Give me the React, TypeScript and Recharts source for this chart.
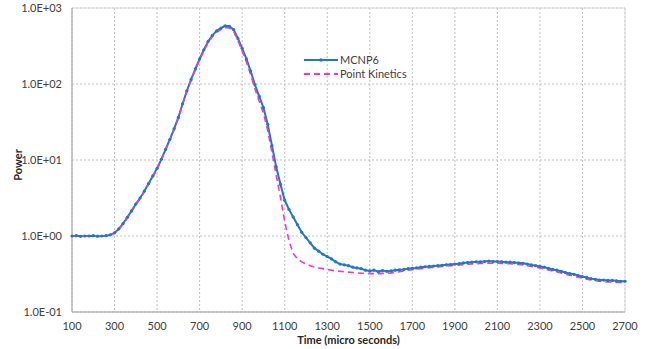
import {
  LineChart,
  Line,
  XAxis,
  YAxis,
  CartesianGrid,
  Legend,
  ReferenceArea,
} from 'recharts';

const BLUE = '#1f78c8';
const PINK = '#ff33cc';
const FONT = 'Lato, "Liberation Sans", sans-serif';

const time: number[] = [
  100, 120, 140, 160, 180, 200, 220, 240, 260, 280,
  300, 320, 340, 360, 380, 400, 420, 440, 460, 480,
  500, 520, 540, 560, 580, 600, 620, 640, 660, 680,
  700, 720, 740, 760, 780, 800, 820, 840, 860, 880,
  900, 920, 940, 960, 980, 1000, 1020, 1040, 1060, 1080,
  1100, 1120, 1140, 1160, 1180, 1200, 1220, 1240, 1260, 1280,
  1300, 1320, 1340, 1360, 1380, 1400, 1420, 1440, 1460, 1480,
  1500, 1520, 1540, 1560, 1580, 1600, 1620, 1640, 1660, 1680,
  1700, 1720, 1740, 1760, 1780, 1800, 1820, 1840, 1860, 1880,
  1900, 1920, 1940, 1960, 1980, 2000, 2020, 2040, 2060, 2080,
  2100, 2120, 2140, 2160, 2180, 2200, 2220, 2240, 2260, 2280,
  2300, 2320, 2340, 2360, 2380, 2400, 2420, 2440, 2460, 2480,
  2500, 2520, 2540, 2560, 2580, 2600, 2620, 2640, 2660, 2680,
  2700,
];

const mcnp6: number[] = [
  1.0, 1.01, 0.99, 1.0, 1.0, 1.01, 0.995, 1.0, 1.01, 1.035,
  1.1, 1.24, 1.46, 1.76, 2.14, 2.63, 3.16, 3.89, 4.9, 6.17,
  7.76, 10.2, 13.8, 18.6, 25.7, 36.3, 55.0, 81.3, 115, 158,
  214, 282, 363, 437, 501, 543, 582, 575, 519, 398,
  295, 214, 148, 97.7, 69.2, 49.0, 29.5, 15.5, 8.13, 4.79,
  2.95, 2.24, 1.78, 1.41, 1.12, 0.955, 0.813, 0.692, 0.631, 0.575,
  0.537, 0.501, 0.457, 0.427, 0.417, 0.407, 0.389, 0.38, 0.372, 0.355,
  0.347, 0.355, 0.339, 0.351, 0.343, 0.347, 0.355, 0.359, 0.363, 0.372,
  0.376, 0.38, 0.389, 0.394, 0.398, 0.403, 0.407, 0.412, 0.417, 0.422,
  0.427, 0.432, 0.442, 0.447, 0.452, 0.457, 0.457, 0.462, 0.468, 0.462,
  0.462, 0.457, 0.452, 0.452, 0.447, 0.442, 0.437, 0.427, 0.417, 0.407,
  0.398, 0.389, 0.376, 0.363, 0.355, 0.343, 0.331, 0.32, 0.313, 0.302,
  0.292, 0.285, 0.275, 0.269, 0.263, 0.263, 0.26, 0.26, 0.257, 0.254,
  0.254,
];

const pointKinetics: number[] = [
  1.0, 1.0, 1.0, 1.0, 1.0, 1.0, 1.0, 1.0, 1.0, 1.03,
  1.09, 1.22, 1.43, 1.72, 2.09, 2.57, 3.09, 3.8, 4.79, 6.03,
  7.59, 9.97, 13.5, 18.2, 25.1, 35.5, 53.7, 79.4, 112, 154,
  207, 272, 350, 420, 480, 521, 552, 545, 490, 372,
  272, 195, 133, 86.3, 59.6, 41.3, 24.5, 12.6, 6.31, 3.24,
  1.55, 0.871, 0.589, 0.501, 0.457, 0.427, 0.407, 0.389, 0.38, 0.372,
  0.363, 0.355, 0.347, 0.343, 0.339, 0.335, 0.331, 0.327, 0.324, 0.322,
  0.32, 0.32, 0.32, 0.322, 0.324, 0.327, 0.331, 0.339, 0.347, 0.355,
  0.36, 0.366, 0.372, 0.377, 0.382, 0.387, 0.392, 0.397, 0.402, 0.407,
  0.411, 0.415, 0.42, 0.425, 0.429, 0.432, 0.435, 0.437, 0.438, 0.438,
  0.437, 0.436, 0.434, 0.431, 0.427, 0.422, 0.415, 0.407, 0.398, 0.389,
  0.38, 0.369, 0.358, 0.347, 0.336, 0.325, 0.314, 0.304, 0.295, 0.286,
  0.278, 0.271, 0.264, 0.258, 0.254, 0.25, 0.248, 0.246, 0.245, 0.244,
  0.243,
];

const xTicks = [100, 300, 500, 700, 900, 1100, 1300, 1500, 1700, 1900, 2100, 2300, 2500, 2700];
const yTicks = [0.1, 1, 10, 100, 1000];
const yTickLabels = ['1.0E-01', '1.0E+00', '1.0E+01', '1.0E+02', '1.0E+03'];

const data = time.map((t, i) => ({ t, mcnp6: mcnp6[i], pk: pointKinetics[i] }));

const renderLegend = () => (
  <div style={{ fontFamily: FONT, fontSize: 11, color: '#404040', lineHeight: '14px' }}>
    <div style={{ display: 'flex', alignItems: 'center' }}>
      <svg width={34} height={8}>
        <line x1={0} y1={4} x2={34} y2={4} stroke={BLUE} strokeWidth={2} />
        <circle cx={17} cy={4} r={1.8} fill={BLUE} />
      </svg>
      <span style={{ marginLeft: 2 }}>MCNP6</span>
    </div>
    <div style={{ display: 'flex', alignItems: 'center' }}>
      <svg width={34} height={8}>
        <line x1={0} y1={4} x2={34} y2={4} stroke={PINK} strokeWidth={2} strokeDasharray="6 4" />
      </svg>
      <span style={{ marginLeft: 2 }}>Point Kinetics</span>
    </div>
  </div>
);

const PowerChart = () => {
  return (
    <div style={{ position: 'absolute', left: 0, top: 0 }}>
      <LineChart
        width={648}
        height={349}
        data={data}
        margin={{ top: 8, right: 23, bottom: 0, left: 0 }}
      >
        <CartesianGrid stroke="#bfbfbf" strokeDasharray="2 2" />
        <ReferenceArea x1={100} x2={2700} y1={0.1} y2={1000} fill="none" stroke="#d9d9d9" />
        <XAxis
          dataKey="t"
          type="number"
          domain={[100, 2700]}
          ticks={xTicks}
          height={37}
          tickLine={false}
          tickMargin={4}
          axisLine={{ stroke: '#a6a6a6' }}
          tick={{ fontSize: 11, fill: '#404040', fontFamily: FONT }}
          label={{
            value: 'Time (micro seconds)',
            position: 'insideBottom',
            offset: 5,
            style: { fontSize: 11, fontWeight: 'bold', fill: '#262626', fontFamily: FONT },
          }}
        />
        <YAxis
          type="number"
          scale="log"
          domain={[0.1, 1000]}
          allowDataOverflow
          ticks={yTicks}
          width={72}
          tickLine={false}
          tickMargin={4}
          axisLine={{ stroke: '#a6a6a6' }}
          tick={{ fontSize: 11, fill: '#404040', fontFamily: FONT }}
          tickFormatter={(v: number) => yTickLabels[yTicks.indexOf(v)] ?? String(v)}
          label={{
            content: () => (
              <text
                x={17}
                y={165}
                transform="rotate(-90 17 165)"
                textAnchor="middle"
                dominantBaseline="central"
                style={{ fontSize: 11, fontWeight: 'bold', fill: '#262626', fontFamily: FONT }}
              >
                Power
              </text>
            ),
          }}
        />
        <Legend
          content={renderLegend}
          layout="vertical"
          align="center"
          verticalAlign="middle"
          wrapperStyle={{ position: 'absolute', left: 304, top: 53, width: 'auto' }}
        />
        <Line
          type="linear"
          dataKey="mcnp6"
          name="MCNP6"
          stroke={BLUE}
          strokeWidth={2}
          dot={{ r: 1.6, fill: BLUE, stroke: BLUE, strokeWidth: 0 }}
          isAnimationActive={false}
        />
        <Line
          type="linear"
          dataKey="pk"
          name="Point Kinetics"
          stroke={PINK}
          strokeWidth={1.6}
          strokeDasharray="6 4"
          dot={false}
          isAnimationActive={false}
        />
      </LineChart>
    </div>
  );
};

export default PowerChart;
